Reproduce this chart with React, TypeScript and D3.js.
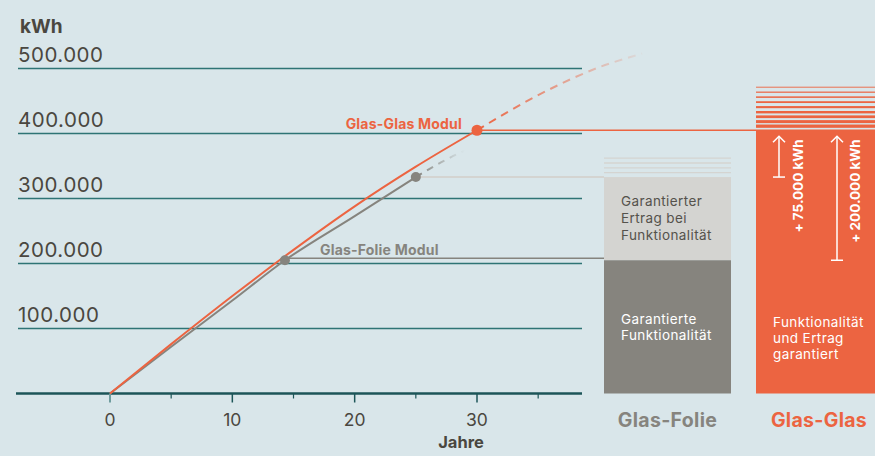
import React from "react";
import * as d3 from "d3";

// years / kWh
const xTicks = [0, 10, 20, 30];
const xMinorTicks = [5, 15, 25, 35];
const yTicks = [100000, 200000, 300000, 400000, 500000];

const glasGlas: [number, number][] = [
  [0, 0], [5, 76000], [10, 150000], [15, 221000], [20, 288000], [25, 349000], [30, 405000],
];
const glasGlasForecast: [number, number][] = [
  [30, 405000], [35, 459000], [40, 502000], [43.5, 523000],
];
const glasFolie: [number, number][] = [
  [0, 0], [5, 72000], [10, 143000], [14.3, 205000], [20, 273000], [25, 333000],
];
const glasFolieForecast: [number, number][] = [
  [25, 333000], [27.5, 360000], [30, 382000],
];
const glasFolieMarkers: [number, number][] = [[14.3, 205000], [25, 333000]];
const glasGlasMarkers: [number, number][] = [[30, 405000]];

const categories = ["Glas-Folie", "Glas-Glas"];
const folieFunktion = 205000;
const folieErtrag = 333000;
const glasTotal = 405000;
const folieStripes = [362000, 354600, 347000, 339700];
const glasStripes = [471500, 463800, 456200, 448500, 440800, 433000, 426000, 418500, 411500];

const ORANGE = "#ec6441";
const GREY = "#86847e";
const LIGHT = "#d4d4d1";
const TEXT = "#4a4740";
const FONT = "Inter, 'Open Sans', sans-serif";

const App: React.FC = () => {
  const width = 875;
  const height = 456;

  const x = d3.scaleLinear().domain([0, 30]).range([110, 477]);
  const y = d3.scaleLinear().domain([0, 500000]).range([393.5, 68.5]);
  const band = d3.scaleBand().domain(categories).range([604, 883]).paddingInner(0.1645).paddingOuter(0);

  const line = d3
    .line<[number, number]>()
    .x((d) => x(d[0]))
    .y((d) => y(d[1]))
    .curve(d3.curveMonotoneX);

  const gridLeft = 18;
  const gridRight = 582;
  const fx = band("Glas-Folie")!;
  const gx = band("Glas-Glas")!;
  const bw = band.bandwidth();

  const arrows = [
    { to: folieErtrag, dx: 23, label: "+ 75.000 kWh", tx: 47 },
    { to: folieFunktion, dx: 81, label: "+ 200.000 kWh", tx: 104 },
  ];

  return (
    <svg
      width={width}
      height={height}
      style={{ position: "absolute", left: 0, top: 0, display: "block", background: "#d9e6ea", fontVariantLigatures: "none" }}
      fontFamily={FONT}
    >
      <defs>
        <linearGradient id="fadeOrange" gradientUnits="userSpaceOnUse" x1={x(30)} x2={x(43.5)} y1={0} y2={0}>
          <stop offset="0" stopColor={ORANGE} stopOpacity={1} />
          <stop offset="1" stopColor={ORANGE} stopOpacity={0.08} />
        </linearGradient>
        <linearGradient id="fadeGrey" gradientUnits="userSpaceOnUse" x1={x(25)} x2={x(29)} y1={0} y2={0}>
          <stop offset="0" stopColor={GREY} stopOpacity={1} />
          <stop offset="1" stopColor={GREY} stopOpacity={0} />
        </linearGradient>
      </defs>

      {/* y axis */}
      <text x={20} y={33} fontSize={19} fontWeight={700} fill={TEXT}>kWh</text>
      {yTicks.map((t) => (
        <g key={t}>
          <line x1={gridLeft} x2={gridRight} y1={y(t)} y2={y(t)} stroke="#2e7475" strokeWidth={1.5} />
          <text x={gridLeft} y={y(t) - 7} fontSize={20.5} letterSpacing={0.5} fill={TEXT}>
            {d3.format(",")(t).replace(/,/g, ".")}
          </text>
        </g>
      ))}

      {/* x axis */}
      <line x1={16} x2={gridRight} y1={y(0)} y2={y(0)} stroke="#1c5558" strokeWidth={2.5} />
      {xTicks.map((t) => (
        <g key={t}>
          <line x1={x(t)} x2={x(t)} y1={y(0)} y2={y(0) + 9} stroke={t === 0 ? "#6f9c9e" : "#1c5558"} strokeWidth={t === 0 ? 2 : 1.5} />
          <text x={x(t)} y={426} fontSize={17.5} fill={TEXT} textAnchor="middle">{t}</text>
        </g>
      ))}
      {xMinorTicks.map((t) => (
        <line key={t} x1={x(t)} x2={x(t)} y1={y(0)} y2={y(0) + 5} stroke="#1c5558" strokeWidth={1.2} />
      ))}
      <text x={x(30) - 16} y={448} fontSize={16.5} fontWeight={700} fill={TEXT} textAnchor="middle">Jahre</text>

      {/* bars: Glas-Folie */}
      {folieStripes.map((v) => (
        <line key={v} x1={fx} x2={fx + bw} y1={y(v)} y2={y(v)} stroke={LIGHT} strokeWidth={1.3} />
      ))}
      <rect x={fx} y={y(folieErtrag)} width={bw} height={y(folieFunktion) - y(folieErtrag)} fill={LIGHT} />
      <rect x={fx} y={y(folieFunktion)} width={bw} height={y(0) - y(folieFunktion)} fill={GREY} />
      <text fontSize={13.5} letterSpacing={0.4} fill="#55524c">
        {["Garantierter", "Ertrag bei", "Funktionalität"].map((s, i) => (
          <tspan key={s} x={fx + 17} y={206 + i * 17}>{s}</tspan>
        ))}
      </text>
      <text fontSize={13.5} letterSpacing={0.4} fill="#fff">
        {["Garantierte", "Funktionalität"].map((s, i) => (
          <tspan key={s} x={fx + 17} y={324 + i * 16}>{s}</tspan>
        ))}
      </text>
      <text x={fx + bw / 2} y={427} fontSize={19.5} letterSpacing={0.3} fontWeight={700} fill={GREY} textAnchor="middle">Glas-Folie</text>

      {/* bars: Glas-Glas */}
      {glasStripes.map((v, i) => (
        <rect key={v} x={gx} y={y(v) - (0.6 + i * 0.3) / 2} width={bw} height={0.9 + i * 0.3} fill={ORANGE} />
      ))}
      <rect x={gx} y={y(glasTotal)} width={bw} height={y(0) - y(glasTotal)} fill={ORANGE} />
      <text fontSize={13.5} letterSpacing={0.4} fill="#fff">
        {["Funktionalität", "und Ertrag", "garantiert"].map((s, i) => (
          <tspan key={s} x={gx + 17} y={327 + i * 16}>{s}</tspan>
        ))}
      </text>
      <text x={gx + 63} y={427} fontSize={19.5} letterSpacing={0.3} fontWeight={700} fill={ORANGE} textAnchor="middle">Glas-Glas</text>

      {arrows.map((a) => {
        const ax = gx + a.dx;
        const top = y(glasTotal) + 6;
        const bottom = y(a.to);
        return (
          <g key={a.label} stroke="#fff" strokeWidth={1.5} fill="none">
            <line x1={ax} x2={ax} y1={top} y2={bottom} />
            <polyline points={`${ax - 6},${top + 6} ${ax},${top} ${ax + 6},${top + 6}`} />
            <line x1={ax - 6} x2={ax + 6} y1={bottom} y2={bottom} />
            <text
              transform={`translate(${gx + a.tx},${y(glasTotal) + 9}) rotate(-90)`}
              textAnchor="end"
              fontSize={13.5}
              fontWeight={700}
              fill="#fff"
              stroke="none"
            >
              {a.label}
            </text>
          </g>
        );
      })}

      {/* connectors from markers to bars */}
      <line x1={x(25)} x2={fx} y1={y(folieErtrag)} y2={y(folieErtrag)} stroke={LIGHT} strokeWidth={2} />
      <line x1={x(14.3)} x2={fx} y1={y(folieFunktion) - 2} y2={y(folieFunktion) - 2} stroke={GREY} strokeWidth={1.5} />
      <line x1={x(30)} x2={width} y1={y(glasTotal)} y2={y(glasTotal)} stroke={ORANGE} strokeWidth={1.5} />

      {/* lines */}
      <path d={line(glasFolieForecast) ?? ""} fill="none" stroke="url(#fadeGrey)" strokeWidth={2} strokeDasharray="7 6" />
      <path d={line(glasGlasForecast) ?? ""} fill="none" stroke="url(#fadeOrange)" strokeWidth={2} strokeDasharray="8 6" />
      <path d={line(glasFolie) ?? ""} fill="none" stroke={GREY} strokeWidth={2} />
      <path d={line(glasGlas) ?? ""} fill="none" stroke={ORANGE} strokeWidth={2} />
      {glasFolieMarkers.map((d) => (
        <circle key={d[0]} cx={x(d[0])} cy={y(d[1])} r={5} fill={GREY} />
      ))}
      {glasGlasMarkers.map((d) => (
        <circle key={d[0]} cx={x(d[0])} cy={y(d[1])} r={5.5} fill={ORANGE} />
      ))}

      <text x={x(30) - 15} y={129} fontSize={14} letterSpacing={0.2} fontWeight={700} fill={ORANGE} textAnchor="end">Glas-Glas Modul</text>
      <text x={320} y={255} fontSize={14} letterSpacing={0.2} fontWeight={700} fill={GREY}>Glas-Folie Modul</text>
    </svg>
  );
};

export default App;
